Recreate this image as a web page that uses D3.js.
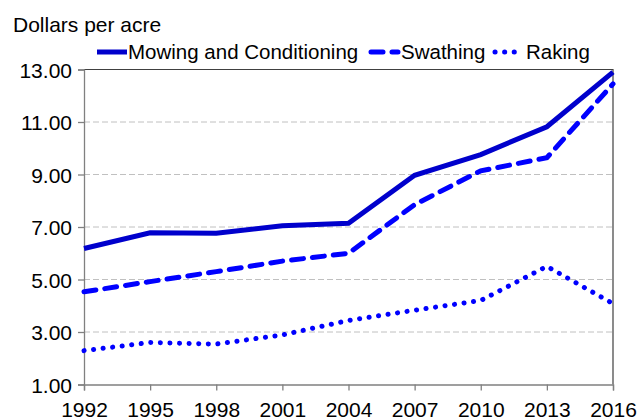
<!DOCTYPE html>
<meta charset="utf-8">
<style>
body { margin: 0; }
text { font-family: "Liberation Sans", Arial, sans-serif; fill: #000; }
.grid line { stroke: #c0c0c0; stroke-dasharray: 6,3; }
</style>
<svg width="642" height="420"></svg>
<script src="https://d3js.org/d3.v7.min.js"></script>
<script>

// data
var years = [1992, 1995, 1998, 2001, 2004, 2007, 2010, 2013, 2016];
var mowing = [6.18, 6.78, 6.76, 7.05, 7.14, 8.97, 9.76, 10.82, 12.9];
var swathing = [4.53, 4.92, 5.3, 5.7, 6.0, 7.85, 9.14, 9.64, 12.45];
var raking = [2.29, 2.6, 2.54, 2.89, 3.44, 3.83, 4.2, 5.5, 4.08];
var yTicks = [1, 3, 5, 7, 9, 11, 13];

var series = [
  {name: "Mowing and Conditioning", values: mowing, color: "#0000cc", dash: null},
  {name: "Swathing", values: swathing, color: "#0000ff", dash: "12,9"},
  {name: "Raking", values: raking, color: "#0000ff", dash: "0.1,9.5"}
];

var svg = d3.select("svg"),
    mLeft = 84, mRight = 613, mTop = 69.5, mBottom = 384.5;

var x = d3.scaleLinear().domain([1992, 2016]).range([mLeft, mRight]);
var y = d3.scaleLinear().domain([1, 13]).range([mBottom, mTop]);

// gridlines
svg.append("g")
    .attr("class", "grid")
  .selectAll("line")
  .data(yTicks.filter(function(d) { return d > 1 && d < 13; }))
  .enter().append("line")
    .attr("x1", mLeft).attr("x2", mRight)
    .attr("y1", function(d) { return y(d); })
    .attr("y2", function(d) { return y(d); });

// frame top/right
svg.append("path")
    .attr("d", "M" + mLeft + "," + mTop + "H" + mRight + "V" + mBottom)
    .attr("fill", "none")
    .attr("stroke", "#404040")
    .attr("stroke-width", 1.2);

// axes
var yAxis = svg.append("g")
    .attr("transform", "translate(" + mLeft + ",0)")
    .call(d3.axisLeft(y).tickValues(yTicks).tickFormat(d3.format(".2f")).tickSizeOuter(0).tickSize(6).tickPadding(6));

var xAxis = svg.append("g")
    .attr("transform", "translate(0," + mBottom + ")")
    .call(d3.axisBottom(x).tickValues(years).tickFormat(d3.format("d")).tickSizeOuter(0).tickSize(6).tickPadding(4));

[yAxis, xAxis].forEach(function(a) {
  a.select(".domain").attr("stroke", "#808080").attr("stroke-width", 1.3);
  a.selectAll(".tick line").attr("stroke", "#808080").attr("stroke-width", 1.3);
  a.selectAll("text").style("font-size", "21px").attr("fill", "#000");
});
yAxis.selectAll("text").attr("dy", "0.36em");
xAxis.selectAll("text").attr("dy", "1.05em");

// lines
var line = d3.line()
    .x(function(d, i) { return x(years[i]); })
    .y(function(d) { return y(d); });

svg.append("g").selectAll("path")
  .data(series.slice().reverse())
  .enter().append("path")
    .attr("d", function(d) { return line(d.values); })
    .attr("fill", "none")
    .attr("stroke", function(d) { return d.color; })
    .attr("stroke-width", 5)
    .attr("stroke-linecap", function(d) { return d.dash ? "round" : "butt"; })
    .attr("stroke-dasharray", function(d) { return d.dash; });

// title
svg.append("text")
    .attr("x", 13).attr("y", 32)
    .style("font-size", "21px")
    .text("Dollars per acre");

// legend
var legX = [97, 369, 493];
var leg = svg.append("g").selectAll("g")
  .data(series)
  .enter().append("g")
    .attr("transform", function(d, i) { return "translate(" + legX[i] + ",52)"; });

leg.append("line")
    .attr("x1", function(d) { return d.dash ? 2 : 0; })
    .attr("x2", function(d) { return d.dash ? 29 : 30; })
    .attr("stroke", function(d) { return d.color; })
    .attr("stroke-width", 5)
    .attr("stroke-linecap", function(d) { return d.dash ? "round" : "butt"; })
    .attr("stroke-dasharray", function(d) { return d.dash; });

leg.append("text")
    .attr("x", function(d) { return d.dash ? (d.name === "Raking" ? 33 : 32) : 31; })
    .attr("y", 7)
    .style("font-size", "20.5px")
    .text(function(d) { return d.name; });

</script>
